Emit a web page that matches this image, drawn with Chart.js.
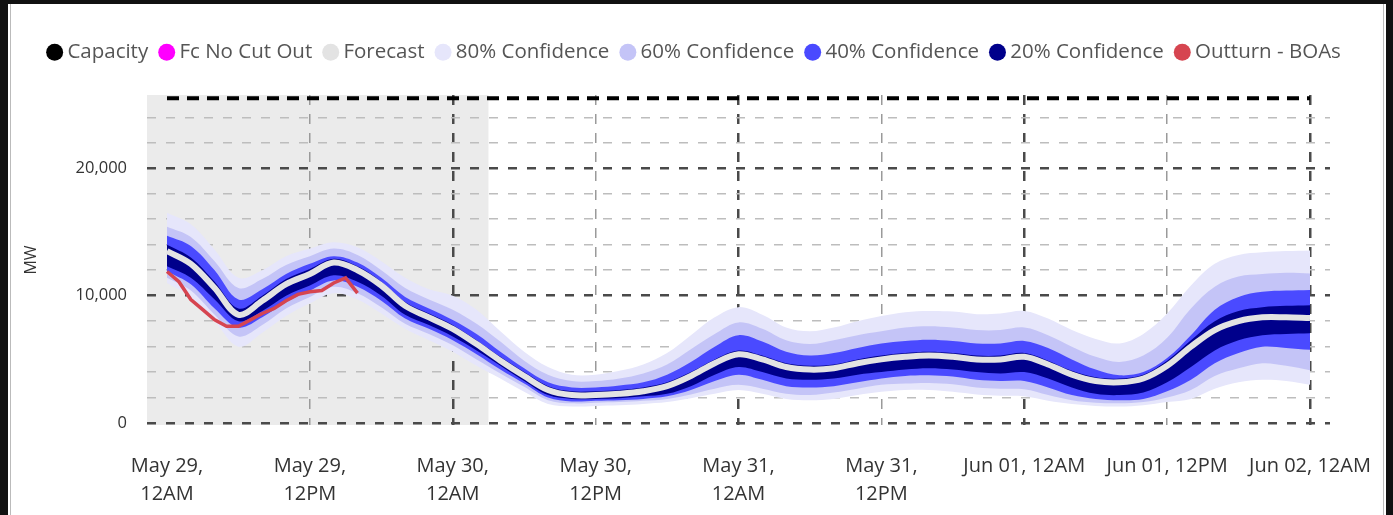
<!DOCTYPE html>
<html><head><meta charset="utf-8">
<script src="https://cdn.jsdelivr.net/npm/chart.js"></script>
<style>
html,body{margin:0;padding:0;background:#fff;width:1393px;height:515px;overflow:hidden}
#wrap{position:absolute;left:0;top:0;width:1393px;height:515px}
canvas{position:absolute;left:0;top:0}
.fr{position:absolute;pointer-events:none}
</style></head><body>
<div id="wrap">
<canvas id="c" width="1393" height="515"></canvas>
<div class="fr" style="left:0;top:0;width:8px;height:515px;background:#111"></div>
<div class="fr" style="left:10px;top:4px;width:1px;height:511px;background:#bbb"></div>
<div class="fr" style="left:0;top:0;width:1393px;height:4px;background:#111"></div>
<div class="fr" style="left:1386px;top:0;width:7px;height:515px;background:#111"></div>
<div class="fr" style="left:1383px;top:4px;width:1px;height:511px;background:#bbb"></div>
</div>
<script>
// ---- data (MW) ----
const hours = [0,2,4,6,8,10,12,14,16,18,20,22,24,26,28,30,32,34,36,38,40,42,44,46,48,50,52,54,56,58,60,62,64,66,68,70,72,74,76,78,80,82,84,86,88,90,92,94,96];
const forecast = [13500,12500,10600,8500,9600,10900,11700,12600,12000,10800,9200,8300,7400,6200,4900,3700,2600,2200,2200,2300,2500,2900,3700,4700,5400,5000,4400,4200,4300,4700,5000,5200,5300,5200,5000,5000,5200,4600,3800,3300,3200,3500,4500,6000,7300,8000,8300,8300,8250];
const upper20 = [14000,13000,11100,9000,10000,11300,12100,12900,12300,11100,9500,8600,7700,6500,5200,4000,2900,2500,2500,2600,2800,3200,4000,5000,5700,5300,4700,4500,4600,5000,5300,5500,5600,5500,5300,5300,5500,4900,4100,3600,3500,3800,4900,6500,8000,8800,9100,9200,9250];
const lower20 = [12300,11400,9700,8000,8800,10000,10800,11600,11100,10000,8500,7700,6800,5700,4500,3300,2200,1900,1900,1950,2100,2300,2900,3800,4400,4000,3500,3400,3500,3800,4000,4200,4300,4200,4000,3900,4000,3500,2800,2300,2200,2400,3200,4400,5700,6500,6900,7000,7050];
const upper40 = [14700,13900,12000,9700,10500,11700,12500,13100,12600,11400,9900,9000,8100,7000,5600,4300,3200,2800,2800,2950,3200,3800,4800,6000,6900,6400,5600,5300,5500,5900,6250,6450,6550,6450,6250,6250,6450,5900,5000,4200,3750,4000,5100,6900,8900,9900,10300,10400,10450];
const lower40 = [11900,10900,9000,7500,8300,9500,10400,11200,10700,9600,8200,7400,6500,5400,4200,3100,2000,1700,1750,1800,1900,2100,2600,3300,3800,3400,2900,2800,2900,3200,3500,3700,3750,3650,3400,3300,3300,2800,2200,1900,1800,1900,2500,3400,4700,5500,6000,5900,5750];
const upper60 = [15400,14600,12700,10600,11300,12400,13100,13700,13200,12000,10600,9700,8900,7800,6400,4900,3800,3300,3300,3500,3900,4600,5800,7000,7900,7400,6500,6200,6500,6900,7200,7500,7600,7500,7300,7300,7500,6900,6000,5200,4800,5300,6700,9000,10700,11500,11700,11800,11750];
const lower60 = [11400,10400,8500,6800,7700,9000,9900,10700,10200,9100,7800,7000,6100,5000,3900,2850,1800,1550,1600,1650,1750,1900,2250,2700,3000,2700,2300,2200,2400,2700,3000,3100,3150,3050,2800,2700,2650,2200,1800,1600,1550,1650,2000,2600,3700,4300,4700,4500,4150];
const upper80 = [16500,15600,13600,11400,12000,13100,13700,14200,13800,12700,11400,10500,10000,8900,7200,5600,4400,3800,3800,4100,4600,5500,6900,8300,9100,8500,7500,7200,7500,8000,8400,8700,8800,8750,8550,8600,8800,8200,7300,6600,6250,7000,8600,10800,12500,13200,13400,13500,13550];
const lower80 = [11000,9900,8000,6000,7100,8400,9400,10200,9700,8600,7400,6500,5600,4500,3500,2450,1500,1300,1350,1400,1500,1650,1950,2300,2600,2300,1900,1800,1900,2200,2450,2600,2600,2450,2250,2150,2100,1750,1500,1350,1300,1400,1650,1900,2700,3200,3400,3300,3000];
const outturnHours = [0,1,2,3,4,5,6,7,8,9,10,11,12,13,14,15,16];
const outturn = [11900,11100,9700,8900,8100,7600,7600,8100,8600,9000,9600,10100,10300,10400,11000,11400,10200];
const capacityHours = [0,96];
const capacity = [25500,25500];
const historyEndHour = 27;
const xTickHours = [0,12,24,36,48,60,72,84,96];
const xTickLabels = [["May 29,","12AM"],["May 29,","12PM"],["May 30,","12AM"],["May 30,","12PM"],["May 31,","12AM"],["May 31,","12PM"],"Jun 01, 12AM","Jun 01, 12PM","Jun 02, 12AM"];
const yTickValues = [0,2000,4000,6000,8000,10000,12000,14000,16000,18000,20000,22000,24000];
const seriesNames = ["Capacity","Fc No Cut Out","Forecast","80% Confidence","60% Confidence","40% Confidence","20% Confidence","Outturn - BOAs"];

// ---- styles ----
const COL = {cap:'#000000', fc:'#ff00ff', fore:'#e3e3e3', c80:'#e6e6fb', c60:'#c4c4f7', c40:'#4a4aff', c20:'#00008b', out:'#d64550'};
const legendColors = [COL.cap, COL.fc, COL.fore, COL.c80, COL.c60, COL.c40, COL.c20, COL.out];
const FONT = "'Open Sans', 'Noto Sans', sans-serif";

const pts = (xs, ys) => xs.map((x, i) => ({x: x, y: ys[i]}));
const band = (label, up, lo, color) => [
  {label: label, data: pts(hours, up), borderWidth: 0, pointRadius: 0, backgroundColor: color, borderColor: color, fill: '+1', tension: 0.35},
  {label: label + ' low', data: pts(hours, lo), borderWidth: 0, pointRadius: 0, backgroundColor: color, borderColor: color, fill: false, tension: 0.35}
];

const datasets = [
  {label: seriesNames[7], data: pts(outturnHours, outturn), borderColor: COL.out, backgroundColor: COL.out, borderWidth: 3.5, pointRadius: 0, fill: false, tension: 0},
  {label: seriesNames[2], data: pts(hours, forecast), borderColor: COL.fore, backgroundColor: COL.fore, borderWidth: 6, pointRadius: 0, fill: false, tension: 0.35},
  {label: seriesNames[1], data: [], borderColor: COL.fc, backgroundColor: COL.fc, pointRadius: 0, fill: false},
  {label: seriesNames[0], data: pts(capacityHours, capacity), borderColor: COL.cap, backgroundColor: COL.cap, borderWidth: 4, borderDash: [12, 8], pointRadius: 0, fill: false},
  ...band(seriesNames[6], upper20, lower20, COL.c20),
  ...band(seriesNames[5], upper40, lower40, COL.c40),
  ...band(seriesNames[4], upper60, lower60, COL.c60),
  ...band(seriesNames[3], upper80, lower80, COL.c80)
];

const shade = {
  id: 'shade',
  beforeDraw(chart) {
    const {ctx, chartArea: a, scales: {x}} = chart;
    const xr = x.getPixelForValue(historyEndHour);
    ctx.save();
    ctx.fillStyle = '#ebebeb';
    ctx.fillRect(a.left, a.top, xr - a.left, a.bottom - a.top);
    ctx.restore();
  }
};

let legendExtra = 0;
let rightGap = 63;
const legendGap = {
  id: 'legendGap',
  afterInit(chart) {
    const lg = chart.legend;
    const orig = lg.fit.bind(lg);
    lg.fit = function () { orig(); this.height += legendExtra; };
  }
};

const chart = new Chart(document.getElementById('c'), {
  type: 'line',
  data: {datasets: datasets},
  plugins: [shade, legendGap],
  options: {
    responsive: false,
    animation: false,
    layout: {padding: {left: 0, right: 0, top: 20, bottom: 0}},
    plugins: {
      tooltip: {enabled: false},
      legend: {
        position: 'top',
        onClick: null,
        labels: {
          usePointStyle: true,
          boxWidth: 5,
          boxHeight: 12,
          padding: 16,
          color: '#555',
          font: {family: FONT, size: 20.5},
          generateLabels: () => seriesNames.map((t, i) => ({
            text: t, fillStyle: legendColors[i], strokeStyle: legendColors[i], lineWidth: 0,
            pointStyle: 'circle', hidden: false, fontColor: '#555'
          }))
        }
      }
    },
    scales: {
      x: {
        type: 'linear',
        min: -1.68, max: 97.68,
        z: 1,
        afterBuildTicks: s => { s.ticks = xTickHours.map(v => ({value: v})); },
        afterFit: s => { s.height = 90; },
        ticks: {
          autoSkip: false, maxRotation: 0, minRotation: 0, padding: 3,
          color: '#333', font: {family: FONT, size: 20, lineHeight: 1.4},
          callback: (v, i) => xTickLabels[i]
        },
        grid: {
          drawTicks: true,
          tickLength: 24,
          tickColor: 'rgba(0,0,0,0)',
          color: c => c.tick && c.tick.value === 0 ? 'rgba(0,0,0,0)' : (c.tick && c.tick.value % 24 === 0 ? '#4a4a4a' : '#9a9a9a'),
          lineWidth: c => c.tick && c.tick.value % 24 === 0 ? 2.5 : 1.5
        },
        border: {display: false, dash: [10, 9]}
      },
      y: {
        min: -150, max: 25750,
        z: 1,
        afterBuildTicks: s => { s.ticks = yTickValues.map(v => ({value: v})); },
        afterFit: s => { s.width = 147; },
        title: {display: true, text: 'MW', color: '#333', font: {family: FONT, size: 16}, padding: {top: 22, bottom: 0}},
        ticks: {
          padding: 20, color: '#333', font: {family: FONT, size: 16.5},
          callback: v => v % 10000 === 0 ? v.toLocaleString('en-US') : ''
        },
        grid: {
          drawTicks: false,
          color: c => c.tick && c.tick.value % 10000 === 0 ? '#4a4a4a' : '#bdbdbd',
          lineWidth: c => c.tick && c.tick.value % 10000 === 0 ? 2.5 : 1.5
        },
        border: {display: false, dash: [9, 10]}
      },
      yr: {
        type: 'linear', position: 'right', display: true,
        grid: {display: false, drawTicks: false}, border: {display: false},
        ticks: {display: false},
        afterFit: s => { s.width = rightGap; }
      }
    }
  }
});

// place legend row and plot area like the reference
const hb = chart.legend.legendHitBoxes[0];
const dotY = hb.top + hb.height / 2;
chart.options.layout.padding.top += Math.round(52 - dotY);
chart.update();
legendExtra = Math.max(0, 95 - chart.chartArea.top);
rightGap = Math.max(0, rightGap + (chart.chartArea.right - 1330));
chart.update();
</script>
</body></html>
